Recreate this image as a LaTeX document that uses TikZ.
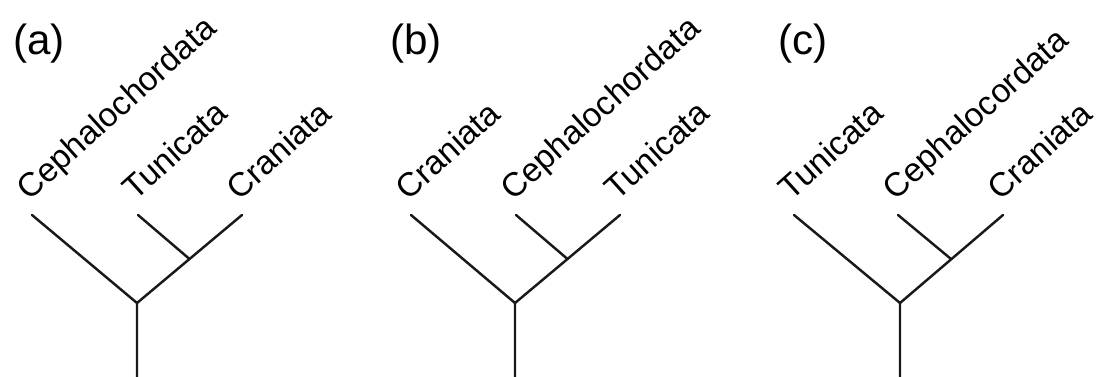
\documentclass[tikz,border=0pt]{standalone}
\usepackage{fontspec}
\setmainfont{Liberation Sans}
\usetikzlibrary{positioning}

\begin{document}
\begin{tikzpicture}[
    branch/.style={line width=1.4pt, black!90, line cap=round},
    taxon/.style={rotate=42, anchor=base west, inner sep=0pt,
                  font=\fontsize{19}{22}\selectfont},
    panel/.style={anchor=base west, inner sep=0pt,
                  font=\fontsize{24}{28}\selectfont}
  ]
    \useasboundingbox (0,0) rectangle (21.98,7.54);

    % tree (a)
    \coordinate (aroot) at (2.74,0);
    \coordinate (ajoin) at (2.74,1.48);
    \coordinate (ainner) at (3.79,2.36);
    \coordinate (aleft) at (0.64,3.24);
    \coordinate (amid) at (2.76,3.24);
    \coordinate (aright) at (4.84,3.24);
    \draw[branch] (aroot) -- (ajoin) -- (aleft);
    \draw[branch] (ajoin) -- (aright);
    \draw[branch] (ainner) -- (amid);
    \node[panel] (alabel) at (0.26,6.45) {(a)};
    \node[taxon] (aleftname) at ([shift={(-0.06,0.27)}]aleft) {Cephalochordata};
    \node[taxon] (amidname) at ([shift={(-0.06,0.27)}]amid) {Tunicata};
    \node[taxon] (arightname) at ([shift={(-0.06,0.27)}]aright) {Craniata};

    % tree (b)
    \coordinate (broot) at (10.30,0);
    \coordinate (bjoin) at (10.30,1.48);
    \coordinate (binner) at (11.35,2.36);
    \coordinate (bleft) at (8.22,3.24);
    \coordinate (bmid) at (10.32,3.24);
    \coordinate (bright) at (12.40,3.24);
    \draw[branch] (broot) -- (bjoin) -- (bleft);
    \draw[branch] (bjoin) -- (bright);
    \draw[branch] (binner) -- (bmid);
    \node[panel] (blabel) at (7.80,6.45) {(b)};
    \node[taxon] (bleftname) at ([shift={(-0.06,0.27)}]bleft) {Craniata};
    \node[taxon] (bmidname) at ([shift={(-0.06,0.27)}]bmid) {Cephalochordata};
    \node[taxon] (brightname) at ([shift={(-0.06,0.27)}]bright) {Tunicata};

    % tree (c)
    \coordinate (croot) at (18.00,0);
    \coordinate (cjoin) at (18.00,1.48);
    \coordinate (cinner) at (19.02,2.36);
    \coordinate (cleft) at (15.88,3.24);
    \coordinate (cmid) at (17.96,3.24);
    \coordinate (cright) at (20.06,3.24);
    \draw[branch] (croot) -- (cjoin) -- (cleft);
    \draw[branch] (cjoin) -- (cright);
    \draw[branch] (cinner) -- (cmid);
    \node[panel] (clabel) at (15.56,6.45) {(c)};
    \node[taxon] (cleftname) at ([shift={(-0.06,0.27)}]cleft) {Tunicata};
    \node[taxon] (cmidname) at ([shift={(-0.06,0.27)}]cmid) {Cephalocordata};
    \node[taxon] (crightname) at ([shift={(-0.06,0.27)}]cright) {Craniata};
  \end{tikzpicture}
\end{document}
